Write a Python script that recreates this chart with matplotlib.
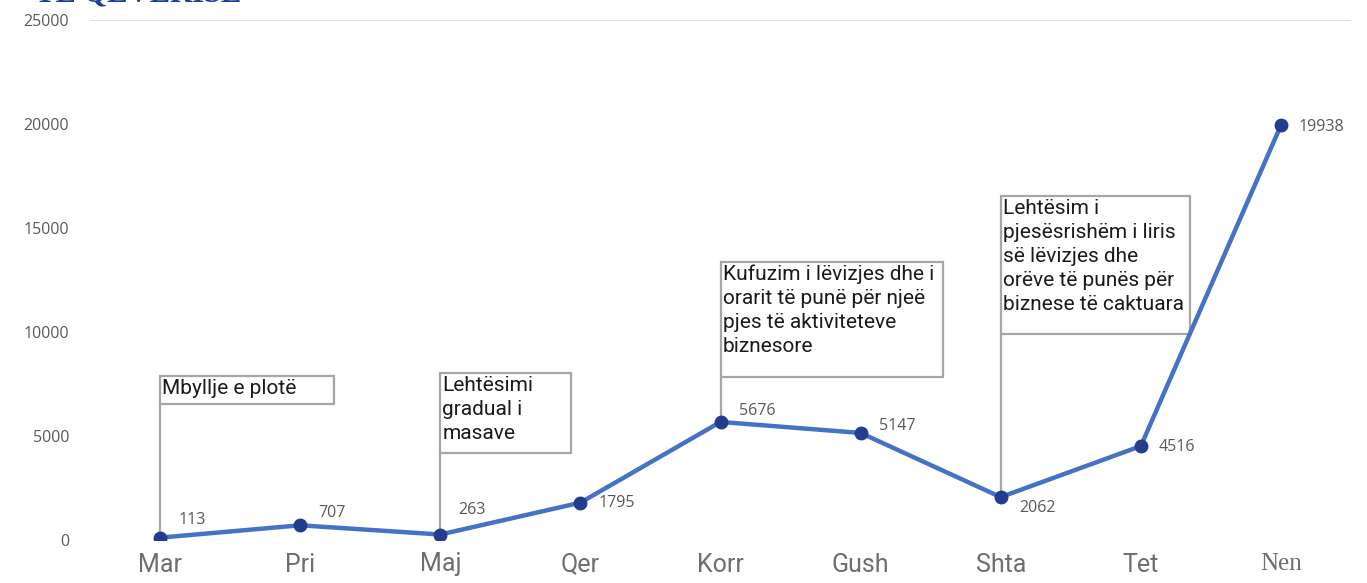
import matplotlib
matplotlib.use("Agg")
import matplotlib.pyplot as plt
from matplotlib.patches import Rectangle

# muajt dhe rastet
muajt = ['Mar', 'Pri', 'Maj', 'Qer', 'Korr', 'Gush', 'Shta', 'Tet', 'Nen']
rastet = [113, 707, 263, 1795, 5676, 5147, 2062, 4516, 19938]

# shenimet per masat
masat_idx = [0, 2, 4, 6]
masat_tekst = [
    "Mbyllje e plotë",
    "Lehtësimi\ngradual i\nmasave",
    "Kufuzim i lëvizjes dhe i\norarit të punë për njeë\npjes të aktiviteteve\nbiznesore",
    "Lehtësim i\npjesësrishëm i liris\nsë lëvizjes dhe\norëve të punës për\nbiznese të caktuara",
]

cond = ['Liberation Sans Narrow', 'Roboto', 'DejaVu Sans']

fig = plt.figure(figsize=(13.67, 5.83), dpi=100)
ax = fig.add_axes([90/1367, 43/583, 1261/1367, 520/583])

x = list(range(len(muajt)))
ax.plot(x, rastet, color='#4472C4', lw=3.2, zorder=3)
ax.plot(x, rastet, 'o', color='#233C8E', ms=9, zorder=4)

# etiketat e vlerave (zhvendosja ne pike)
dy = [13, 9, 18, 0, 8, 5, -8, -1, -1]
for i, v in enumerate(rastet):
    ax.annotate(str(v), (i, v), xytext=(13, dy[i]), textcoords='offset points',
                ha='left', va='center', fontsize=11.5, color='#595959',
                family=['Open Sans', 'DejaVu Sans'], zorder=5)

# kutite e shenimeve
kutite = [(1.243, 7885, 6538), (0.936, 8029, 4183),
          (1.586, 13365, 7837), (1.35, 16538, 9904)]
for k, (i, txt) in enumerate(zip(masat_idx, masat_tekst)):
    w, top, bot = kutite[k]
    ax.plot([i, i], [rastet[i], bot], color='#A6A6A6', lw=1.6, zorder=2,
            solid_capstyle='butt')
    ax.add_patch(Rectangle((i, bot), w, top - bot, fill=True, fc='white',
                           ec='#A6A6A6', lw=1.6, zorder=2))
    ax.annotate(txt, (i, top), xytext=(1.5, -2), textcoords='offset points',
                ha='left', va='top', fontsize=15, color='#1a1a1a',
                family=cond, linespacing=1.33, zorder=3)

ax.set_xlim(-0.5, len(muajt) - 0.5)
ax.set_ylim(0, 25000)
ax.set_yticks([0, 5000, 10000, 15000, 20000, 25000])
ax.set_yticklabels(['0', '5000', '10000', '15000', '20000', '25000'])
ax.axhline(25000, color='#D9D9D9', lw=1.2, zorder=1)
ax.set_xticks(x)
ax.set_xticklabels(muajt)
for lab in ax.get_xticklabels():
    lab.set_fontfamily(cond)
    lab.set_fontsize(18)
    lab.set_color('#6E6E6E')
ax.get_xticklabels()[-1].set_fontfamily(['Liberation Serif', 'DejaVu Serif'])
for lab in ax.get_yticklabels():
    lab.set_fontfamily(['Open Sans', 'DejaVu Sans'])
    lab.set_fontsize(11.5)
    lab.set_color('#595959')
ax.tick_params(axis='both', length=0)
ax.tick_params(axis='y', pad=15)
ax.tick_params(axis='x', pad=9)
for s in ax.spines.values():
    s.set_visible(False)

# titulli i prere lart
fig.text(35/1367, 1 - 1/583, "TË QEVERISË", color='#1F3C99', fontsize=22,
         fontweight='bold', family=['Liberation Serif', 'DejaVu Serif'],
         ha='left', va='baseline')

fig.savefig('out.png', dpi=100)
